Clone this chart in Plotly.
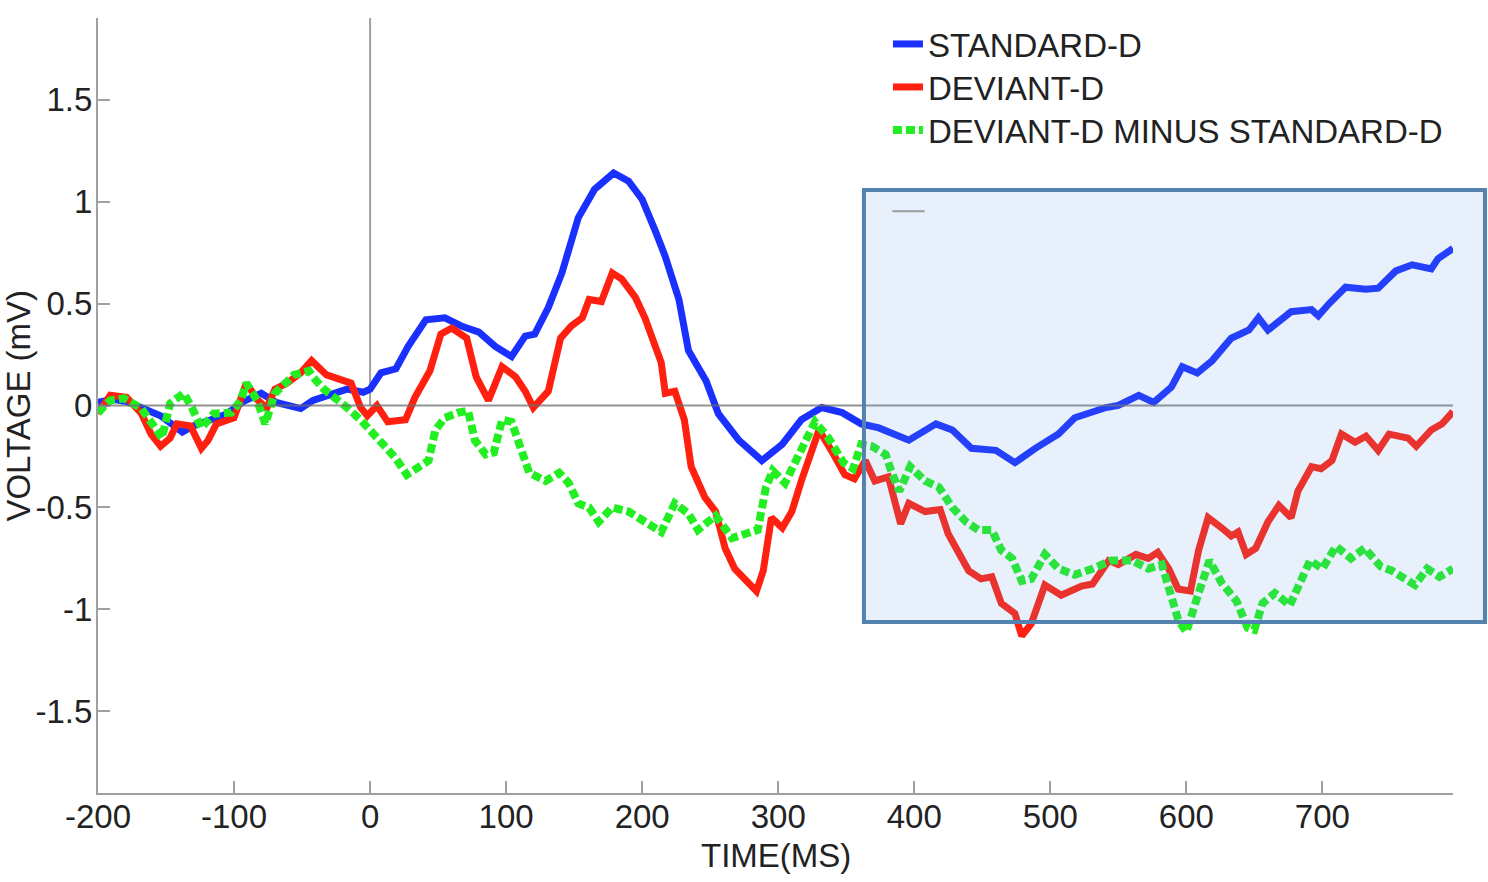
import plotly.graph_objects as go

# ---------------- data ----------------
t_std = [-200, -189, -179, -166, -154, -138, -130, -117, -105, -93, -80, -69, -51, -42, -27, -17, -5, 0,
         8, 19, 28, 41, 55, 67, 80, 92, 104, 114, 121, 131, 141, 153, 165, 179, 190, 200, 210, 217, 227,
         234, 247, 256, 271, 288, 303, 317, 332, 347, 361, 374, 396, 416, 428, 442, 460, 474, 489, 506,
         518, 541, 550, 565, 576, 589, 597, 608, 619, 633, 646, 653, 660, 677, 692, 697, 705, 717, 732,
         741, 754, 766, 780, 785, 796]
v_std = [0.015, 0.03, 0.02, -0.02, -0.05, -0.13, -0.10, -0.07, -0.04, 0.02, 0.06, 0.015, -0.015, 0.025,
         0.06, 0.08, 0.065, 0.08, 0.16, 0.18, 0.29, 0.42, 0.43, 0.39, 0.36, 0.29, 0.24, 0.34, 0.35, 0.48,
         0.65, 0.92, 1.06, 1.14, 1.10, 1.01, 0.85, 0.73, 0.52, 0.27, 0.12, -0.04, -0.17, -0.27, -0.19,
         -0.07, -0.01, -0.035, -0.09, -0.11, -0.17, -0.09, -0.12, -0.21, -0.22, -0.28, -0.21, -0.14,
         -0.06, -0.01, 0.0, 0.05, 0.015, 0.09, 0.19, 0.16, 0.22, 0.33, 0.37, 0.43, 0.37, 0.46, 0.47,
         0.44, 0.50, 0.58, 0.57, 0.575, 0.66, 0.69, 0.67, 0.72, 0.77]

t_dev = [-200, -191, -179, -168, -161, -154, -147, -142, -132, -124, -119, -113, -100, -91, -83, -76,
         -70, -61, -51, -43, -32, -22, -14, -7, -2, 5, 13, 26, 33, 44, 52, 60, 71, 78, 87, 97, 107, 114,
         120, 131, 140, 148, 156, 161, 170, 178, 185, 195, 202, 214, 217, 224, 231, 236, 246, 254, 261,
         268, 275, 284, 289, 295, 303, 310, 317, 330, 339, 349, 356, 364, 371, 381, 390, 396, 408, 419,
         425, 433, 440, 449, 457, 464, 474, 479, 486, 496, 508, 523, 531, 543, 550, 563, 572, 579, 587,
         594, 603, 609, 616, 626, 633, 638, 644, 651, 660, 668, 677, 682, 692, 699, 707, 714, 724, 732,
         741, 749, 763, 769, 780, 788, 796]
v_dev = [-0.04, 0.05, 0.04, -0.04, -0.14, -0.20, -0.16, -0.09, -0.10, -0.21, -0.17, -0.09, -0.06, 0.11,
         0.03, -0.015, 0.08, 0.11, 0.16, 0.22, 0.15, 0.13, 0.11, -0.01, -0.05, 0.0, -0.08, -0.07, 0.04,
         0.17, 0.35, 0.38, 0.33, 0.14, 0.025, 0.19, 0.14, 0.07, -0.01, 0.07, 0.33, 0.39, 0.43, 0.52,
         0.51, 0.65, 0.62, 0.53, 0.43, 0.21, 0.06, 0.07, -0.07, -0.30, -0.45, -0.52, -0.70, -0.80, -0.85,
         -0.91, -0.81, -0.55, -0.60, -0.52, -0.37, -0.12, -0.22, -0.34, -0.36, -0.27, -0.37, -0.35,
         -0.58, -0.48, -0.52, -0.51, -0.63, -0.73, -0.81, -0.85, -0.84, -0.97, -1.02, -1.13, -1.07,
         -0.88, -0.93, -0.885, -0.875, -0.76, -0.78, -0.73, -0.75, -0.72, -0.80, -0.90, -0.91, -0.71,
         -0.55, -0.60, -0.64, -0.62, -0.73, -0.70, -0.57, -0.49, -0.55, -0.42, -0.30, -0.31, -0.27,
         -0.14, -0.18, -0.15, -0.22, -0.14, -0.16, -0.20, -0.12, -0.09, -0.03]

t_diff = [-200, -191, -181, -168, -159, -153, -147, -137, -131, -124, -115, -102, -95, -91, -83, -77,
          -70, -62, -56, -45, -42, -34, -25, -17, -7, 3, 8, 19, 27, 36, 43, 48, 55, 65, 72, 77, 85, 91,
          97, 104, 111, 117, 129, 139, 146, 153, 161, 168, 178, 190, 202, 214, 224, 234, 241, 254, 266,
          275, 285, 291, 296, 305, 315, 327, 337, 348, 355, 361, 369, 379, 383, 389, 397, 408, 418, 428,
          438, 447, 457, 464, 472, 479, 486, 496, 506, 518, 531, 545, 560, 572, 582, 589, 594, 600, 606,
          609, 617, 626, 637, 645, 650, 656, 665, 676, 691, 700, 710, 721, 731, 743, 751, 763, 768, 777,
          786, 796]
v_diff = [-0.035, 0.025, 0.035, -0.015, -0.10, -0.16, 0.01, 0.06, -0.01, -0.11, -0.04, -0.035, 0.025,
          0.11, 0.025, -0.09, 0.06, 0.11, 0.15, 0.17, 0.14, 0.08, 0.035, -0.01, -0.07, -0.14, -0.17,
          -0.26, -0.34, -0.30, -0.27, -0.12, -0.06, -0.035, -0.025, -0.17, -0.24, -0.23, -0.07, -0.08,
          -0.21, -0.33, -0.37, -0.33, -0.38, -0.48, -0.50, -0.57, -0.50, -0.52, -0.57, -0.62, -0.48,
          -0.53, -0.61, -0.54, -0.65, -0.63, -0.61, -0.40, -0.32, -0.38, -0.24, -0.08, -0.16, -0.28,
          -0.31, -0.19, -0.20, -0.24, -0.32, -0.42, -0.30, -0.37, -0.40, -0.50, -0.57, -0.61, -0.61,
          -0.71, -0.75, -0.86, -0.85, -0.73, -0.80, -0.83, -0.80, -0.76, -0.76, -0.80, -0.78, -0.93,
          -1.05, -1.11, -0.97, -0.92, -0.76, -0.87, -0.96, -1.09, -1.10, -0.97, -0.92, -0.98, -0.76,
          -0.80, -0.69, -0.75, -0.70, -0.79, -0.81, -0.86, -0.88, -0.80, -0.84, -0.80]

series_names = ["STANDARD-D", "DEVIANT-D", "DEVIANT-D MINUS STANDARD-D"]

x_tickvals = [-200, -100, 0, 100, 200, 300, 400, 500, 600, 700]
x_ticktext = ["-200", "-100", "0", "100", "200", "300", "400", "500", "600", "700"]
y_tickvals = [-1.5, -1, -0.5, 0, 0.5, 1, 1.5]
y_ticktext = ["-1.5", "-1", "-0.5", "0", "0.5", "1", "1.5"]

x_range = [-200, 796]
y_range = [-1.9, 1.9]
highlight_start = 363  # ms, left edge of the shaded window

# ---------------- figure ----------------
FONT = "Arial, Liberation Sans, sans-serif"
FS = 33
fig = go.Figure()
fig.add_trace(go.Scatter(x=t_std, y=v_std, mode="lines", name=series_names[0], legend="legend",
                         line=dict(color="#1a30ff", width=7)))
fig.add_trace(go.Scatter(x=t_dev, y=v_dev, mode="lines", name=series_names[1], legend="legend2",
                         line=dict(color="#ff2010", width=7)))
fig.add_trace(go.Scatter(x=t_diff, y=v_diff, mode="lines", name=series_names[2], legend="legend3",
                         line=dict(color="#22ee22", width=8, dash="9px,4px")))


def xp(v):
    return (v - x_range[0]) / (x_range[1] - x_range[0])


shapes = [
    # vertical stimulus-onset line (from 0 up)
    dict(type="line", xref="x", yref="y", x0=0, x1=0, y0=0, y1=y_range[1],
         line=dict(color="#a0a0a0", width=2), layer="below"),
    # horizontal zero line
    dict(type="line", xref="x", yref="y", x0=x_range[0], x1=x_range[1], y0=0, y1=0,
         line=dict(color="rgba(110,110,110,0.75)", width=2), layer="above"),
    # shaded window
    dict(type="rect", xref="paper", yref="paper",
         x0=xp(highlight_start), x1=1.0236, y0=0.2206, y1=0.778,
         fillcolor="rgba(100,160,230,0.15)",
         line=dict(color="#5282ad", width=4), layer="above"),
    # small gray dash inside the window
    dict(type="line", xref="paper", yref="paper", x0=0.5863, x1=0.61, y0=0.7505, y1=0.7505,
         line=dict(color="#9a9a9a", width=2), layer="above"),
]

annotations = [
    dict(text="TIME(MS)", xref="paper", yref="paper", x=0.5, y=-0.0805, yanchor="middle",
         xanchor="center", showarrow=False, font=dict(family=FONT, size=FS, color="#222")),
    dict(text="VOLTAGE (mV)", xref="paper", yref="paper", x=-0.0590, y=0.5, textangle=-90,
         xanchor="center", yanchor="middle", showarrow=False,
         font=dict(family=FONT, size=FS, color="#222")),
]

leg_common = dict(x=0.583, xanchor="left", yanchor="top", bgcolor="rgba(0,0,0,0)",
                  font=dict(family=FONT, size=FS, color="#222"), itemwidth=30)
row = 43 / 775.0
top = 1.0 + 2 / 775.0

fig.update_layout(
    width=1488, height=882,
    margin=dict(l=98, r=35, t=18, b=89),
    paper_bgcolor="white", plot_bgcolor="white",
    font=dict(family=FONT, size=FS, color="#222"),
    showlegend=True,
    legend=dict(y=top, **leg_common),
    legend2=dict(y=top - row, **leg_common),
    legend3=dict(y=top - 2 * row, **leg_common),
    shapes=shapes,
    annotations=annotations,
)
fig.update_xaxes(range=x_range, tickvals=x_tickvals, ticktext=x_ticktext, showgrid=False,
                 zeroline=False, showline=True, linecolor="#a0a0a0", linewidth=2,
                 ticks="inside", ticklen=12, tickwidth=2, tickcolor="#a0a0a0",
                 ticklabelstandoff=-7,
                 tickfont=dict(family=FONT, size=FS, color="#222"))
fig.update_yaxes(range=y_range, tickvals=y_tickvals, ticktext=y_ticktext, showgrid=False,
                 zeroline=False, showline=True, linecolor="#a0a0a0", linewidth=2,
                 ticks="inside", ticklen=12, tickwidth=2, tickcolor="#a0a0a0",
                 ticklabelstandoff=-3,
                 tickfont=dict(family=FONT, size=FS, color="#222"))

fig.write_html("out.html", include_plotlyjs=True, full_html=True)
